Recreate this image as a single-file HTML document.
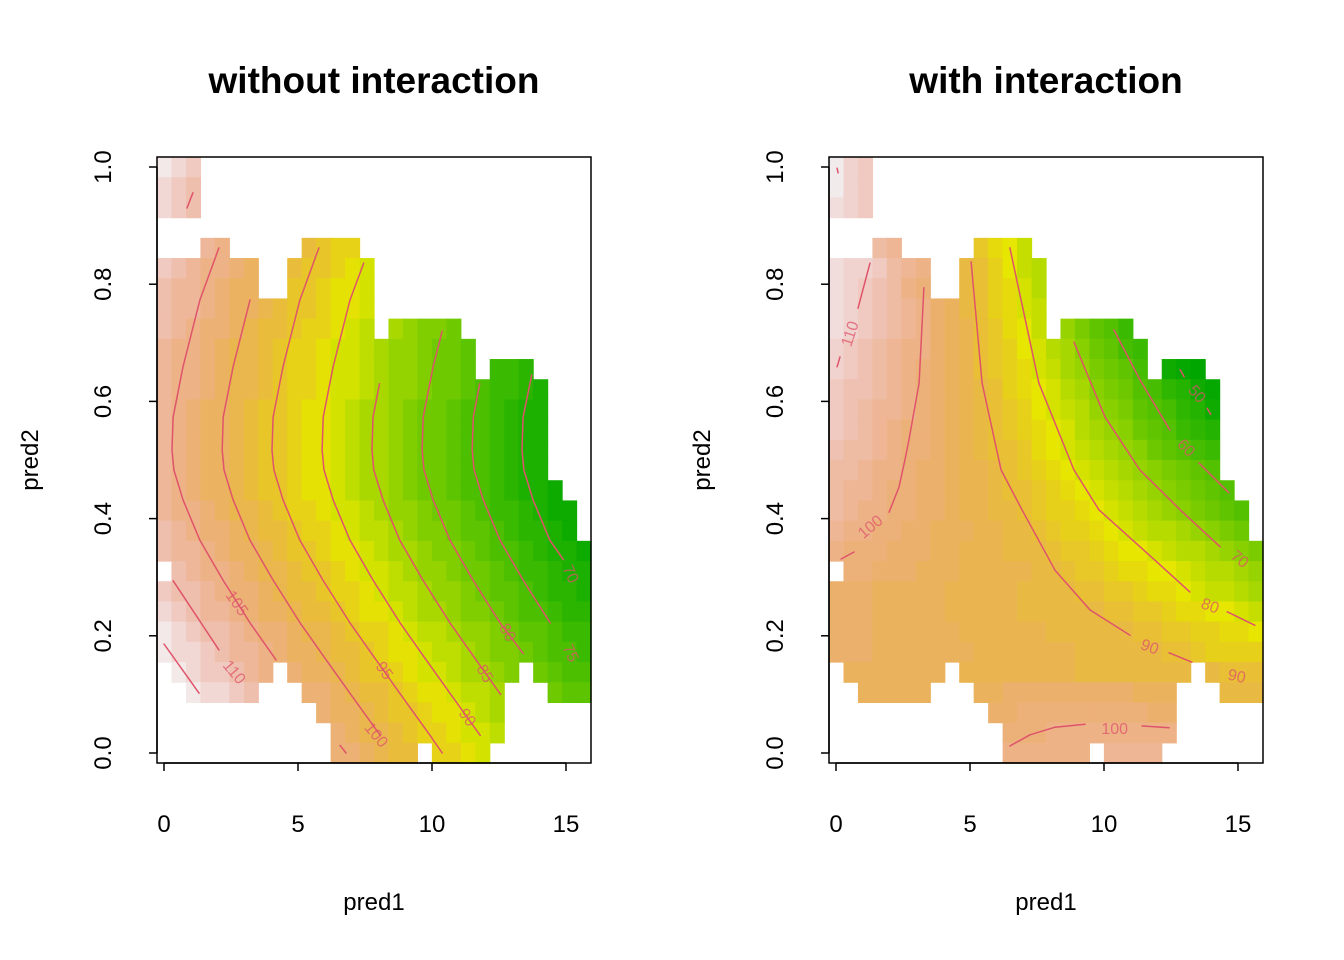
<!DOCTYPE html>
<html><head><meta charset="utf-8"><title>vis.gam plots</title>
<style>
html,body{margin:0;padding:0;background:#fff;}
svg{display:block;font-family:"Liberation Sans",Arial,sans-serif;}
</style></head>
<body>
<svg id="chart" width="1344" height="960" viewBox="0 0 1344 960" xmlns="http://www.w3.org/2000/svg">
<rect x="0" y="0" width="1344" height="960" fill="#fff"/>
</svg>
<script>
// ---------- data ----------
const xTicks = [0, 5, 10, 15];
const yTicks = [0.0, 0.2, 0.4, 0.6, 0.8, 1.0];
const yTickLabels = ["0.0", "0.2", "0.4", "0.6", "0.8", "1.0"];
const titles = ["without interaction", "with interaction"];
const levelChars = "0123456789ABCDEFGHIJKLMNOPQRSTUVWXYZ"; // value = 45 + 2*index
const gridX0 = -0.261, gridDX = 0.5398, gridYTop = 1.017, gridDY = 0.03447;
const zlimLeft = [65, 116];
const zlimRight = [46, 116];

const cellsLeft = [
"ZYX...........................",
"YXW...........................",
"YXW...........................",
"..............................",
"...VU.....QPOO................",
"XWVUUTS..QPPONM...............",
"WVVUTSS..PPONNM...............",
"WVVUTSSRQPPONNM...............",
"WVUTTSRQQPOONML.KJIIH.........",
"VUUTSRRQPOONMMLKJJIHHG........",
"VUUTSRRQPOONMMLKJJIHHG.EED....",
"VUUTSRRQPOONMMLKJJIHHGFEEDC...",
"VUTSSRQPPONNMLKKJIHHGFFEDCC...",
"VUTSSRQPPONNMLKKJIHHGFFEDCC...",
"VUTSSRQPPONNMLKKJIHHGFFEDCC...",
"VUTSSRQPPONNMLKKJIHHGFFEDCC...",
"VUTSSRQPPONNMLKKJIHHGFFEDCCB..",
"VUUTSRRQPOONMMLKJJIHHGFEEDCBB.",
"WVUTTSRQQPOONMLLKJIIHGGFEDDCB.",
"WVVUTSSRQPPONNMLKKJIIHGFFEDCCB",
".WVUUTSRRQPPONMMLKJJIHHGFEEDCC",
"XWWVUTTSRQQPOONMLLKJJIHGGFEDDC",
"YXWVVUTSSRQQPONNMLKKJIIHGFFEDD",
"ZYXWWVUTTSRRQPOONMLLKJJIHGGFEE",
"ZYYXWVVUTSSRQQPONNMLLKJIIHGFFE",
".ZYXXWVU.TSSRQPPONMMLKKJI.HGFF",
"..ZYYXW...TTSRQQPONNMLLK...HGG",
"...........TSSRQPPONNMLK......",
"............TSRRQPOONMML......",
"............TTSRQQ.OONM......."
];
const cellsRight = [
"ZXW...........................",
"ZXW...........................",
"YXW...........................",
"..............................",
"...UT.....LJIG................",
"YXXWUTS..NMKIGF...............",
"YXWVUSR..NMKJHF...............",
"YXWVUTSQPNMKJHG...............",
"YXWVUTSQPOMLJIG.DB986.........",
"XWVUTSSQPOMLKIHFECA976........",
"XWVUTSRQPOMLKJHGEDBA97.210....",
"WVVUTSRQPONMKJIHFECBA875421...",
"WVUTTSRQPONMLKIHGFDCB987542...",
"WVUTSRRQPONMLKJIHFEDCA98654...",
"VUUTSRRQPONMMLJIHGFEDCA9876...",
"UUTSSRQQPOONMLKJIHGFEDCBA98...",
"UTTSRRQQPOONMMLKJIHGFEDCBA98..",
"UTSSRRQQPOONNMLKKJIHGFEDCBA98.",
"TSSRRQQPPPOONNMLKKJIHGFFEDCBA.",
"SRRRQQQPPOOONNNMLLKJIIHGFFEDCB",
".RRQQQPPPOOOOONNMLLKJJIIHGFFED",
"QQQPPPPPOOOOONNNNMMLLKJJIHGGFE",
"QQQPPPPPOOOOONNNNNNMMLLKJJIIHG",
"QQQPPPPPPOOOOOONNNNNNMMLLKKJJI",
"QQQPPPPPPPOOOOOOONNNNNNMMLKKKK",
".PPPPPPP.OOOOOOOONNNNNNNN.NMMM",
"..PPPPP...PPQQQQQQQQQPPP...NNN",
"...........QQRRRRRRRRRQQ......",
"............RRRSSSSSSSSS......",
"............SSSSSS.TTTT......."
];

const contoursLeft = [
 {x:[2.05,1.34,0.71,0.34,0.30,0.37,0.71,1.34,2.20,3.21,4.18], y:[0.862,0.773,0.659,0.573,0.517,0.483,0.432,0.363,0.295,0.222,0.159]},
 {x:[3.21,2.58,2.21,2.17,2.24,2.58,3.21,4.07,5.08,6.05,6.97,8.07], y:[0.773,0.659,0.573,0.517,0.483,0.432,0.363,0.295,0.222,0.159,0.10,0.03]},
 {x:[5.78,5.07,4.44,4.07,4.03,4.10,4.44,5.07,5.93,6.94,7.91,8.83,9.93,10.38], y:[0.862,0.773,0.659,0.573,0.517,0.483,0.432,0.363,0.295,0.222,0.159,0.10,0.03,0.0]},
 {x:[7.45,6.94,6.31,5.94,5.90,5.97,6.31,6.94,7.80,8.81,9.78,10.7,11.8], y:[0.836,0.773,0.659,0.573,0.517,0.483,0.432,0.363,0.295,0.222,0.159,0.10,0.03]},
 {x:[8.04,7.80,7.76,7.83,8.17,8.80,9.66,10.67,11.64,12.56], y:[0.63,0.573,0.517,0.483,0.432,0.363,0.295,0.222,0.159,0.10]},
 {x:[10.38,10.04,9.67,9.63,9.70,10.04,10.67,11.53,12.54,13.4], y:[0.72,0.659,0.573,0.517,0.483,0.432,0.363,0.295,0.222,0.17]},
 {x:[11.78,11.54,11.50,11.57,11.91,12.54,13.40,14.41], y:[0.63,0.573,0.517,0.483,0.432,0.363,0.295,0.222]},
 {x:[13.72,13.40,13.36,13.43,13.77,14.40,14.9], y:[0.645,0.573,0.517,0.483,0.432,0.363,0.33]},
 {x:[0.34,2.05], y:[0.294,0.176]},
 {x:[0.0,1.31], y:[0.186,0.102]},
 {x:[0.86,1.08], y:[0.93,0.956]},
 {x:[6.57,6.79], y:[0.013,0.0]}
];
const contourLabelsLeft = [
 {t:"105", x:2.7, y:0.255, a:55}, {t:"110", x:2.6, y:0.137, a:50},
 {t:"100", x:7.9, y:0.03, a:50}, {t:"95", x:8.2, y:0.14, a:55},
 {t:"90", x:11.3, y:0.06, a:55}, {t:"85", x:11.95, y:0.135, a:60},
 {t:"80", x:12.8, y:0.205, a:60}, {t:"75", x:15.15, y:0.17, a:65},
 {t:"70", x:15.15, y:0.305, a:65}
];
const contoursRight = [
 {x:[0.04,0.08], y:[0.998,0.99]},
 {x:[0.82,1.27], y:[0.759,0.836]},
 {x:[0.04,0.15], y:[0.659,0.676]},
 {x:[0.19,0.67], y:[0.331,0.343]},
 {x:[1.98,2.35,2.57,2.72,3.10,3.28], y:[0.411,0.454,0.5,0.534,0.631,0.794]},
 {x:[5.04,5.45,6.16,6.94,8.17,9.48,10.97], y:[0.838,0.631,0.483,0.415,0.312,0.244,0.201]},
 {x:[12.43,13.28], y:[0.171,0.155]},
 {x:[6.49,7.57,8.88,9.81,11.9,13.2], y:[0.862,0.631,0.483,0.415,0.329,0.275]},
 {x:[14.6,15.63], y:[0.241,0.218]},
 {x:[8.88,10.04,11.34,12.84,14.33], y:[0.701,0.573,0.483,0.415,0.352]},
 {x:[10.37,11.34,12.46], y:[0.722,0.637,0.551]},
 {x:[13.54,14.66], y:[0.495,0.444]},
 {x:[12.84,12.99], y:[0.654,0.642]},
 {x:[13.85,13.98], y:[0.588,0.578]},
 {x:[6.49,7.24,8.17,9.29], y:[0.012,0.031,0.044,0.049]},
 {x:[11.42,12.43], y:[0.046,0.043]}
];
const contourLabelsRight = [
 {t:"110", x:0.55, y:0.715, a:-72}, {t:"100", x:1.3, y:0.385, a:-40},
 {t:"90", x:11.7, y:0.18, a:20}, {t:"90", x:14.95, y:0.13, a:12},
 {t:"80", x:13.95, y:0.25, a:20}, {t:"70", x:15.05, y:0.33, a:40},
 {t:"60", x:13.05, y:0.52, a:45}, {t:"50", x:13.45, y:0.612, a:50},
 {t:"100", x:10.4, y:0.04, a:0}
];

// ---------- drawing ----------
const NS = "http://www.w3.org/2000/svg";
const svg = document.getElementById("chart");
function mk(tag, attrs, parent){ const e=document.createElementNS(NS,tag); for(const k in attrs) e.setAttribute(k, attrs[k]); (parent||svg).appendChild(e); return e; }

function hsv2rgb(h,s,v){
  const i=Math.floor(h*6), f=h*6-i, p=v*(1-s), q=v*(1-f*s), t=v*(1-(1-f)*s);
  let r,g,b; switch(((i%6)+6)%6){case 0:r=v;g=t;b=p;break;case 1:r=q;g=v;b=p;break;case 2:r=p;g=v;b=t;break;case 3:r=p;g=q;b=v;break;case 4:r=t;g=p;b=v;break;default:r=v;g=p;b=q;}
  return "rgb("+Math.round(r*255)+","+Math.round(g*255)+","+Math.round(b*255)+")";
}
function terrain(t){
  t=Math.max(0,Math.min(1,t));
  if(t<0.5){ const u=t/0.5; return hsv2rgb(1/3-u/6,1,0.65+0.25*u); }
  const u=(t-0.5)/0.5; return hsv2rgb((1/6)*(1-u),1-u,0.9+0.05*u);
}

function drawPanel(idx, ox, cells, zlim, contours, labels){
  const sx = x => ox + 164 + 26.8*x;
  const sy = y => 753 - 586*y;
  const g = mk("g",{});
  
  
  const hm = mk("g",{}, g);
  
  
  for(let r=0;r<cells.length;r++){
    const row=cells[r];
    for(let c=0;c<row.length;c++){
      const k=levelChars.indexOf(row[c]);
      if(k<0) continue;
      const val=45+2*k;
      const x0=gridX0+c*gridDX, yT=gridYTop-r*gridDY;
      const px=sx(x0), py=sy(yT), pw=sx(x0+gridDX)-px, ph=sy(yT-gridDY)-py;
      const rc=mk("rect",{x:px.toFixed(2),y:py.toFixed(2),width:(pw+0.6).toFixed(2),height:(ph+0.6).toFixed(2),fill:terrain((val-zlim[0])/(zlim[1]-zlim[0]))}, hm);
      
      
    }
  }
  const cg = mk("g",{}, g);
  
  
  contours.forEach(cn=>{
    let d=""; cn.x.forEach((x,i)=>{ d+=(i?"L":"M")+sx(x).toFixed(1)+","+sy(cn.y[i]).toFixed(1); });
    const p=mk("path",{d:d,fill:"none",stroke:"#DF536B","stroke-width":1.5,"stroke-linecap":"round","stroke-linejoin":"round"}, cg);
    
    
  });
  labels.forEach(lb=>{
    const X=sx(lb.x), Y=sy(lb.y);
    const t=mk("text",{x:X.toFixed(1),y:Y.toFixed(1),"font-size":16,fill:"#DF536B","fill-opacity":0.75,"text-anchor":"middle","dominant-baseline":"central",transform:"rotate("+lb.a+" "+X.toFixed(1)+" "+Y.toFixed(1)+")"}, cg);
    t.textContent=lb.t;
    
    
  });
  const box=mk("rect",{x:ox+157,y:157,width:434,height:606,fill:"none",stroke:"#000","stroke-width":1.5}, g);
  
  
  const xa=mk("g",{}, g);
  
  
  mk("line",{x1:sx(xTicks[0]),x2:sx(xTicks[xTicks.length-1]),y1:763,y2:763,stroke:"#000","stroke-width":1.5}, xa);
  xTicks.forEach(v=>{
    const l=mk("line",{x1:sx(v),x2:sx(v),y1:763,y2:771,stroke:"#000","stroke-width":1.5}, xa);
    
    
    const t=mk("text",{x:sx(v),y:832,"font-size":24,"text-anchor":"middle",fill:"#000"}, xa);
    t.textContent=String(v);
    
    
  });
  const ya=mk("g",{}, g);
  
  
  mk("line",{x1:ox+157,x2:ox+157,y1:sy(yTicks[0]),y2:sy(yTicks[yTicks.length-1]),stroke:"#000","stroke-width":1.5}, ya);
  yTicks.forEach((v,i)=>{
    const l=mk("line",{x1:ox+149,x2:ox+157,y1:sy(v),y2:sy(v),stroke:"#000","stroke-width":1.5}, ya);
    
    
    const X=ox+111, Y=sy(v);
    const t=mk("text",{x:X,y:Y,"font-size":24,"text-anchor":"middle",fill:"#000",transform:"rotate(-90 "+X+" "+Y+")"}, ya);
    t.textContent=yTickLabels[i];
    
    
  });
  const tt=mk("text",{x:ox+374,y:93,"font-size":37,"font-weight":"bold","text-anchor":"middle",fill:"#000"}, g);
  tt.textContent=titles[idx];
  
  
  const xt=mk("text",{x:ox+374,y:910,"font-size":24,"text-anchor":"middle",fill:"#000"}, g);
  xt.textContent="pred1";
  
  
  const YX=ox+38, YY=460;
  const yt=mk("text",{x:YX,y:YY,"font-size":24,"text-anchor":"middle",fill:"#000",transform:"rotate(-90 "+YX+" "+YY+")"}, g);
  yt.textContent="pred2";
  
  
}
drawPanel(0, 0, cellsLeft, zlimLeft, contoursLeft, contourLabelsLeft);
drawPanel(1, 672, cellsRight, zlimRight, contoursRight, contourLabelsRight);
</script>
</body></html>
